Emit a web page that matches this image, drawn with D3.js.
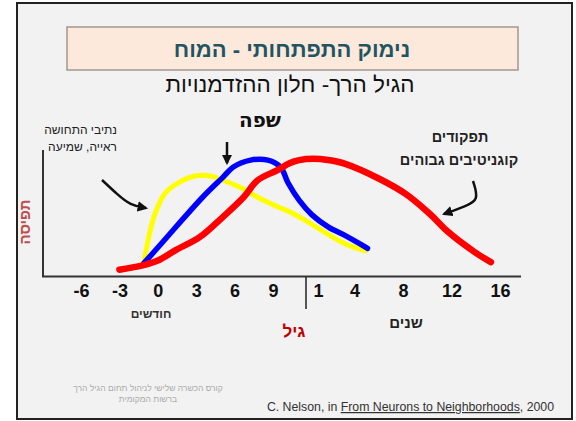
<!DOCTYPE html>
<html>
<head>
<meta charset="utf-8">
<script src="https://cdn.jsdelivr.net/npm/d3@7"></script>
<style>
  body { margin: 0; background: #fff; }
  text { font-family: "Liberation Sans", Arial, "DejaVu Sans", sans-serif; }
</style>
</head>
<body>
<script>
// ages are in months; years are turned into months (1 year = 12)
var tickMonths = [-6, -3, 0, 3, 6, 9, 12, 48, 96, 144, 192];
var tickLabels = ["-6", "-3", "0", "3", "6", "9", "1", "4", "8", "12", "16"];

// sensory pathways (vision, hearing)
var sensoryAge = [-1.1, -0.7, -0.2, 0.6, 1.7, 3, 4, 5.1, 6.5, 7.8, 9.3, 10.1, 11.6, 22, 39, 59];
var sensoryVal = [10, 31, 50, 66, 74.5, 79.5, 79.5, 76, 70, 62.5, 55, 51, 41, 33, 25.5, 20];

// language
var languageAge = [-1.1, 0.3, 1.9, 3.5, 5.1, 5.9, 7.25, 8.6, 9.5, 10, 10.75, 11.6, 22, 39, 61];
var languageVal = [10, 26, 44.5, 62.5, 78.5, 86.5, 92, 92, 86.5, 74, 60, 48.5, 39, 32, 22];

// higher cognitive functions
var cognitiveAge = [-3, -1.1, 0.1, 1.4, 3.3, 5.1, 6.7, 7.8, 9.3, 10.1, 10.75, 11.7, 22, 39, 73, 99, 123, 140, 167, 183];
var cognitiveVal = [5, 8.7, 12.7, 20.5, 31, 47, 62.5, 76, 84, 89.5, 92, 93, 92, 89, 77, 65, 49, 35.5, 19, 11];

var W = 576, H = 421;
var svg = d3.select("body").append("svg")
  .attr("width", W).attr("height", H);

svg.append("defs").append("marker")
  .attr("id", "head")
  .attr("viewBox", "0 0 10 10")
  .attr("refX", 8).attr("refY", 5)
  .attr("markerWidth", 4.2).attr("markerHeight", 4.2)
  .attr("orient", "auto")
  .append("path").attr("d", "M0,0 L10,5 L0,10 z").attr("fill", "#111");

// slide frame
svg.append("rect").attr("x", 17).attr("y", 3).attr("width", 555).attr("height", 416)
  .attr("fill", "#f2f2f2").attr("stroke", "#222").attr("stroke-width", 2);

// title box
svg.append("rect").attr("x", 67).attr("y", 27).attr("width", 451).attr("height", 43)
  .attr("fill", "#fde9db").attr("stroke", "#a09790").attr("stroke-width", 1.5);
svg.append("text").attr("x", 292).attr("y", 57).attr("text-anchor", "middle")
  .attr("font-size", 22).attr("font-weight", "bold").attr("fill", "#1f5563")
  .text("נימוק התפתחותי - המוח");
svg.append("text").attr("x", 290).attr("y", 92).attr("text-anchor", "middle")
  .attr("font-size", 22.5).attr("fill", "#111")
  .text("הגיל הרך- חלון ההזדמנויות");

var x = d3.scaleLinear().domain([-6, 9, 12, 192]).range([81, 273, 318, 500]);
var y = d3.scaleLinear().domain([0, 100]).range([276, 150]);

// axes lines
svg.append("line").attr("x1", 43).attr("x2", 43).attr("y1", 150).attr("y2", 277)
  .attr("stroke", "#333").attr("stroke-width", 2);
svg.append("line").attr("x1", 42).attr("x2", 521).attr("y1", 276.5).attr("y2", 276.5)
  .attr("stroke", "#333").attr("stroke-width", 2);

var xAxis = svg.append("g").attr("transform", "translate(0,281)")
  .call(d3.axisBottom(x).tickValues(tickMonths).tickSize(0)
    .tickFormat(function(d, i) { return tickLabels[i]; }));
xAxis.select(".domain").remove();
xAxis.selectAll("text").attr("font-size", 18).attr("font-weight", "bold")
  .attr("fill", "#111").style("font-family", "'Liberation Sans', Arial, sans-serif");

// months / years break
svg.append("line").attr("x1", 306).attr("x2", 306).attr("y1", 277).attr("y2", 309)
  .attr("stroke", "#222").attr("stroke-width", 1.5);

var line = d3.line()
  .x(function(d) { return x(d[0]); })
  .y(function(d) { return y(d[1]); })
  .curve(d3.curveCatmullRom.alpha(0.5));

function draw(ages, vals, color, w) {
  svg.append("path")
    .datum(d3.zip(ages, vals))
    .attr("d", line)
    .attr("fill", "none")
    .attr("stroke", color)
    .attr("stroke-width", w)
    .attr("stroke-linecap", "round")
    .attr("stroke-linejoin", "round");
}
draw(sensoryAge, sensoryVal, "#ffff00", 5);
draw(languageAge, languageVal, "#0000ff", 5.5);
draw(cognitiveAge, cognitiveVal, "#ff0000", 6.5);

// annotation arrows
var arrowLine = d3.line().curve(d3.curveBasis);
function arrow(pts) {
  svg.append("path").attr("d", arrowLine(pts))
    .attr("fill", "none").attr("stroke", "#111").attr("stroke-width", 2.5)
    .attr("marker-end", "url(#head)");
}
arrow([[102, 180], [118, 195], [130, 205], [146, 208]]);
arrow([[227, 142], [227, 152], [227, 163]]);
arrow([[473, 181], [479, 200], [466, 206], [444, 214]]);

// labels
svg.append("text").attr("x", 260).attr("y", 127).attr("text-anchor", "middle")
  .attr("font-size", 20).attr("font-weight", "bold").attr("fill", "#111")
  .style("font-family", "'DejaVu Sans', sans-serif")
  .text("שפה");

var sens = svg.append("g").attr("font-size", 12).attr("fill", "#222")
  .attr("text-anchor", "end");
sens.append("text").attr("x", 117).attr("y", 134).text("נתיבי התחושה");
sens.append("text").attr("x", 117).attr("y", 151).text("ראייה, שמיעה");

var cog = svg.append("g").attr("font-size", 14.5).attr("font-weight", "bold")
  .attr("fill", "#222").attr("text-anchor", "middle")
  .style("font-family", "'DejaVu Sans', sans-serif");
cog.append("text").attr("x", 460).attr("y", 142).text("תפקודים");
cog.append("text").attr("x", 459).attr("y", 165).text("קוגניטיבים גבוהים");

svg.append("text").attr("transform", "translate(30,222) rotate(-90)")
  .attr("text-anchor", "middle").attr("font-size", 15).attr("font-weight", "bold")
  .attr("fill", "#c0504d").text("תפיסה");

svg.append("text").attr("x", 151).attr("y", 318).attr("text-anchor", "middle")
  .attr("font-size", 12).attr("font-weight", "bold").attr("fill", "#333").text("חודשים");
svg.append("text").attr("x", 406).attr("y", 328).attr("text-anchor", "middle")
  .attr("font-size", 15).attr("font-weight", "bold").attr("fill", "#222").text("שנים");
svg.append("text").attr("x", 294).attr("y", 337).attr("text-anchor", "middle")
  .attr("font-size", 17).attr("font-weight", "bold").attr("fill", "#c00000").text("גיל");

// footer
var foot = svg.append("g").attr("font-size", 8.5).attr("fill", "#aaa").attr("text-anchor", "middle");
foot.append("text").attr("x", 148).attr("y", 391).text("קורס הכשרה שלישי לניהול תחום הגיל הרך");
foot.append("text").attr("x", 148).attr("y", 402).text("ברשות המקומית");

var cite = svg.append("text").attr("x", 554).attr("y", 411).attr("text-anchor", "end")
  .attr("font-size", 12.3).attr("fill", "#333");
cite.append("tspan").text("C. Nelson, in ");
cite.append("tspan").attr("text-decoration", "underline").text("From Neurons to Neighborhoods");
cite.append("tspan").text(", 2000");
</script>
</body>
</html>
